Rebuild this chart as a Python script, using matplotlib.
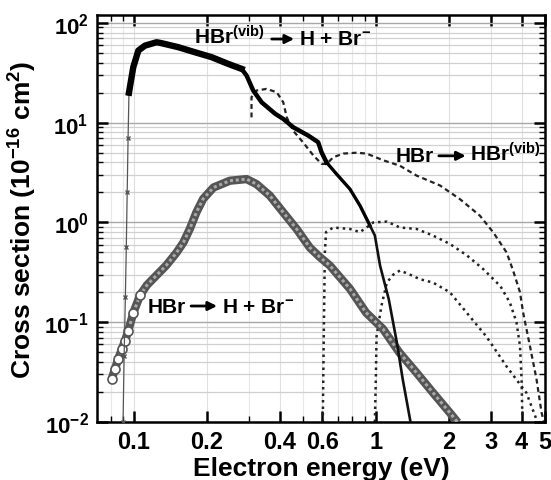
import matplotlib
matplotlib.use("Agg")
import matplotlib.pyplot as plt
from matplotlib.ticker import LogLocator, FixedLocator, NullFormatter, FixedFormatter
import numpy as np

plt.rcParams['font.family'] = ['Liberation Sans', 'DejaVu Sans']
plt.rcParams['font.weight'] = 'bold'
plt.rcParams['mathtext.fontset'] = 'custom'
plt.rcParams['mathtext.rm'] = 'Liberation Sans:bold'
plt.rcParams['mathtext.bf'] = 'Liberation Sans:bold'
plt.rcParams['mathtext.it'] = 'Liberation Sans:bold'
plt.rcParams['mathtext.default'] = 'rm'

# HBr(vib) -> H + Br-  (thick black)
x1 = [0.0901, 0.0910, 0.0921, 0.0929, 0.0937, 0.0945, 0.0953, 0.0993, 0.1042, 0.111,
      0.124, 0.130, 0.1524, 0.1786, 0.2095, 0.2452, 0.2785, 0.2921, 0.311, 0.337,
      0.383, 0.414, 0.455, 0.525, 0.577, 0.596, 0.625, 0.688, 0.781, 0.86,
      0.945, 0.99, 1.04, 1.13, 1.22, 1.29, 1.39]
y1 = [0.01, 0.046, 0.18, 0.57, 2.0, 7.0, 20.0, 36, 52.8, 59.2,
      64, 62.6, 57.1, 50.8, 45.3, 38.8, 34.6, 29.6, 21.0, 16.0,
      12.3, 10.9, 9.0, 7.43, 6.37, 5.05, 4.0, 3.05, 2.16, 1.47,
      0.93, 0.74, 0.37, 0.17, 0.063, 0.027, 0.01]

# HBr -> H + Br-  (open circles)
x2 = [0.0809, 0.0834, 0.086, 0.089, 0.0918, 0.0947, 0.0994, 0.106, 0.113, 0.124,
      0.136, 0.150, 0.160, 0.170, 0.181, 0.193, 0.213, 0.249, 0.292, 0.321,
      0.364, 0.414, 0.470, 0.533, 0.586, 0.645, 0.781, 0.91, 1.07, 1.25,
      1.47, 1.72, 2.02, 2.18]
y2 = [0.027, 0.034, 0.0426, 0.0537, 0.0652, 0.0822, 0.125, 0.187, 0.235, 0.296,
      0.372, 0.50, 0.63, 0.86, 1.26, 1.72, 2.24, 2.62, 2.72, 2.42,
      1.86, 1.26, 0.86, 0.56, 0.45, 0.37, 0.216, 0.125, 0.0855, 0.0497,
      0.0313, 0.0197, 0.0124, 0.0099]

# HBr -> HBr(vib), three vibrational channels
x3a = [0.306, 0.306, 0.321, 0.353, 0.389, 0.414, 0.428, 0.455, 0.50, 0.551,
       0.597, 0.626, 0.666, 0.733, 0.832, 0.915, 1.072, 1.257, 1.472, 1.839,
       2.22, 2.69, 3.05, 3.47, 3.69, 3.94, 4.06, 4.33, 4.61, 4.84, 4.95]
y3a = [11.3, 18, 21, 21.8, 20.2, 16, 11.3, 8.3, 6.34, 4.7,
       3.86, 3.86, 4.5, 4.9, 5.0, 4.9, 4.2, 3.7, 2.95, 2.35,
       1.72, 1.17, 0.80, 0.50, 0.33, 0.20, 0.125, 0.058, 0.027, 0.0124, 0.01]

x3b = [0.603, 0.609, 0.615, 0.622, 0.666, 0.781, 0.859, 0.915, 0.975, 1.11,
       1.257, 1.472, 1.72, 2.02, 2.37, 2.78, 3.27, 3.58, 3.81, 3.94, 4.0, 4.03]
y3b = [0.01, 0.08, 0.5, 0.80, 0.89, 0.86, 0.80, 0.89, 1.0, 1.02,
       0.89, 0.86, 0.74, 0.61, 0.47, 0.34, 0.23, 0.157, 0.10, 0.058, 0.027, 0.0115]

x3c = [0.99, 1.0, 1.006, 1.054, 1.11, 1.18, 1.257, 1.382, 1.52, 1.72,
       2.02, 2.37, 2.86, 3.47, 4.19, 4.61]
y3c = [0.01, 0.03, 0.072, 0.146, 0.25, 0.30, 0.33, 0.30, 0.27, 0.25,
       0.20, 0.125, 0.072, 0.036, 0.0196, 0.0106]

xticks = [0.1, 0.2, 0.4, 0.6, 1, 2, 3, 4, 5]
xticklabels = ['0.1', '0.2', '0.4', '0.6', '1', '2', '3', '4', '5']
yticks = [1e-2, 1e-1, 1e0, 1e1, 1e2]
yticklabels = [r'$10^{-2}$', r'$10^{-1}$', r'$10^{0}$', r'$10^{1}$', r'$10^{2}$']

fig = plt.figure(figsize=(5.51, 4.81), dpi=100)
ax = fig.add_axes([97/551, 1-423/481, 448/551, 407/481])
ax.set_xscale('log')
ax.set_yscale('log')
ax.set_xlim(0.0703, 5.0)
ax.set_ylim(0.01, 120)

# grid
ax.yaxis.set_minor_locator(LogLocator(base=10, subs=np.arange(2, 10)))
ax.xaxis.set_minor_locator(LogLocator(base=10, subs=np.arange(1, 10), numticks=20))
ax.grid(True, which='minor', axis='y', color='#d0d0d0', lw=0.9)
ax.grid(True, which='major', axis='y', color='#a8a8a8', lw=1.0)
ax.grid(True, which='minor', axis='x', color='#e8e8e8', lw=0.8)
ax.grid(True, which='major', axis='x', color='#e0e0e0', lw=0.8)
ax.set_axisbelow(True)

# vibrational excitation
ax.plot(x3a, y3a, color='#222', lw=1.6, ls=(0, (2.2, 1.6)))
ax.plot(x3b, y3b, color='#222', lw=1.8, ls=(0, (1, 1.6)))
ax.plot(x3c, y3c, color='#222', lw=1.8, ls=(0, (1, 1.6)))

# HBr -> H + Br-
ax.plot(x2, y2, color='#555555', lw=6.0, solid_capstyle='butt', zorder=3)
ax.plot(x2, y2, color='#a8a8a8', lw=2.2, ls=(0, (1.0, 0.9)), zorder=3)
ax.plot(x2[:8], y2[:8], ls='none', marker='o', ms=6.5, mfc='white', mec='#555', mew=1.2, zorder=4)

# HBr(vib) -> H + Br-
ax.plot(x1[:7], y1[:7], color='#555', lw=0.9, marker='x', ms=3, mew=1.0, zorder=5)
ax.plot(x1[6:17], y1[6:17], color='black', lw=4.6, solid_joinstyle='round', zorder=5)
ax.plot(x1[16:27], y1[16:27], color='black', lw=3.2, solid_joinstyle='round', zorder=5)
ax.plot(x1[26:31], y1[26:31], color='black', lw=2.4, solid_joinstyle='round', zorder=5)
ax.plot(x1[30:], y1[30:], color='#111', lw=1.9, solid_joinstyle='round', zorder=5)

# ticks
ax.xaxis.set_major_locator(FixedLocator(xticks))
ax.xaxis.set_major_formatter(FixedFormatter(xticklabels))
ax.xaxis.set_minor_formatter(NullFormatter())
ax.yaxis.set_major_locator(FixedLocator(yticks))
ax.yaxis.set_major_formatter(FixedFormatter(yticklabels))
ax.yaxis.set_minor_formatter(NullFormatter())
ax.tick_params(which='major', direction='in', length=8, width=1.8, top=True, right=True,
               labelsize=17, pad=6)
ax.tick_params(which='minor', direction='in', length=4, width=1.0, top=True, right=True)
ax.tick_params(axis='y', which='major', labelsize=16)
for s in ax.spines.values():
    s.set_linewidth(1.8)

ax.set_xlabel('Electron energy (eV)', fontsize=19, fontweight='bold', labelpad=2)
ax.set_ylabel(r'Cross section (10$^{-16}$ cm$^{2}$)', fontsize=19, fontweight='bold', labelpad=4)

# annotations: (left text, right text, left x, arrow x0, arrow x1, right x, baseline, arrow y) in axes fraction
annotations = [
    (r'HBr$^{(vib)}$', r'H + Br$^{-}$', 0.217, 0.390, 0.440, 0.450, 0.929, 0.941),
    (r'HBr', r'HBr$^{(vib)}$', 0.667, 0.763, 0.823, 0.833, 0.642, 0.654),
    (r'HBr', r'H + Br$^{-}$', 0.112, 0.210, 0.268, 0.278, 0.270, 0.285),
]
for left, right, xl, xa0, xa1, xr, yb, ya in annotations:
    ax.text(xl, yb, left, transform=ax.transAxes, fontsize=15, fontweight='bold',
            ha='left', va='baseline', zorder=6)
    ax.text(xr, yb, right, transform=ax.transAxes, fontsize=15, fontweight='bold',
            ha='left', va='baseline', zorder=6)
    ax.annotate('', xy=(xa1, ya), xytext=(xa0, ya), xycoords='axes fraction',
                textcoords='axes fraction', zorder=6,
                arrowprops=dict(arrowstyle='-|>', lw=2.0, color='black',
                                mutation_scale=13, shrinkA=0, shrinkB=0))

fig.savefig('out.png', dpi=100)
